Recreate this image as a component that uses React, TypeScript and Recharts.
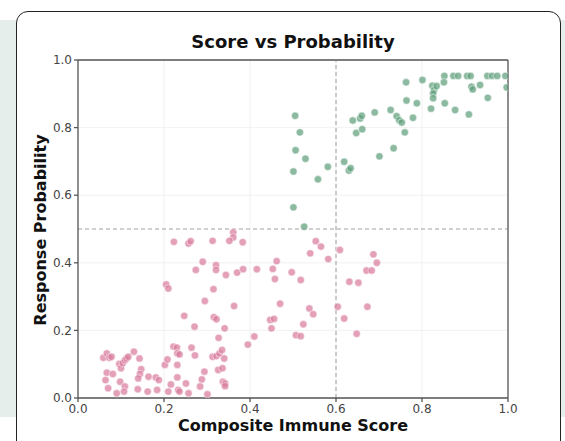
import React from 'react';
import { ScatterChart, Scatter, XAxis, YAxis, CartesianGrid, ReferenceLine } from 'recharts';

// [score, probability] pairs
const nonResponders: [number, number][] = [
  [0.223, 0.462], [0.257, 0.457], [0.262, 0.464], [0.313, 0.465], [0.361, 0.49], [0.361, 0.475],
  [0.352, 0.465], [0.383, 0.461], [0.29, 0.403], [0.274, 0.379], [0.321, 0.393], [0.321, 0.379],
  [0.344, 0.364], [0.37, 0.371], [0.384, 0.381], [0.416, 0.381], [0.205, 0.336], [0.21, 0.324],
  [0.315, 0.322], [0.295, 0.287], [0.363, 0.272], [0.247, 0.243], [0.316, 0.239], [0.322, 0.233],
  [0.271, 0.211], [0.341, 0.206], [0.327, 0.178], [0.395, 0.158], [0.41, 0.182], [0.453, 0.382],
  [0.462, 0.405], [0.458, 0.352], [0.47, 0.279], [0.447, 0.231], [0.456, 0.234], [0.45, 0.206],
  [0.497, 0.372], [0.518, 0.349], [0.507, 0.186], [0.518, 0.183], [0.524, 0.218], [0.538, 0.265],
  [0.547, 0.248], [0.54, 0.428], [0.553, 0.464], [0.565, 0.448], [0.582, 0.411], [0.609, 0.438],
  [0.604, 0.27], [0.619, 0.235], [0.631, 0.344], [0.652, 0.341], [0.648, 0.19], [0.687, 0.425],
  [0.695, 0.4], [0.671, 0.377], [0.683, 0.377], [0.673, 0.27],
  [0.059, 0.119], [0.067, 0.132], [0.073, 0.119], [0.078, 0.122], [0.064, 0.053], [0.067, 0.075],
  [0.07, 0.029], [0.081, 0.071], [0.09, 0.014], [0.096, 0.101], [0.1, 0.088], [0.104, 0.103],
  [0.109, 0.112], [0.113, 0.117], [0.117, 0.122], [0.098, 0.048], [0.109, 0.034], [0.107, 0.019],
  [0.13, 0.137], [0.143, 0.117], [0.147, 0.085], [0.144, 0.071], [0.14, 0.058], [0.139, 0.026],
  [0.164, 0.063], [0.162, 0.019], [0.181, 0.061], [0.188, 0.053], [0.184, 0.024], [0.202, 0.098],
  [0.208, 0.114], [0.21, 0.019], [0.216, 0.04], [0.222, 0.152], [0.23, 0.149], [0.231, 0.132],
  [0.236, 0.129], [0.231, 0.098], [0.231, 0.061], [0.233, 0.024], [0.236, 0.019], [0.251, 0.043],
  [0.257, 0.014], [0.264, 0.149], [0.272, 0.126], [0.288, 0.055], [0.284, 0.034], [0.294, 0.078],
  [0.301, 0.011], [0.313, 0.122], [0.322, 0.124], [0.329, 0.132], [0.335, 0.142], [0.34, 0.117],
  [0.326, 0.083], [0.336, 0.088], [0.337, 0.048], [0.342, 0.043], [0.342, 0.035],
];

const responders: [number, number][] = [
  [0.505, 0.835], [0.516, 0.786], [0.506, 0.733], [0.529, 0.708], [0.501, 0.67], [0.558, 0.647],
  [0.581, 0.684], [0.501, 0.564], [0.526, 0.507], [0.619, 0.699], [0.63, 0.673], [0.634, 0.68],
  [0.639, 0.821], [0.656, 0.827], [0.66, 0.835], [0.647, 0.784], [0.661, 0.795], [0.69, 0.845],
  [0.701, 0.715], [0.734, 0.739], [0.727, 0.852], [0.741, 0.834], [0.747, 0.822], [0.753, 0.815],
  [0.76, 0.786], [0.779, 0.829], [0.763, 0.934], [0.764, 0.88], [0.788, 0.872], [0.801, 0.941],
  [0.821, 0.856], [0.824, 0.924], [0.828, 0.911], [0.826, 0.901], [0.826, 0.887], [0.834, 0.923],
  [0.852, 0.953], [0.851, 0.934], [0.853, 0.872], [0.873, 0.953], [0.884, 0.953], [0.877, 0.852],
  [0.905, 0.953], [0.913, 0.953], [0.915, 0.921], [0.918, 0.913], [0.935, 0.926], [0.909, 0.839],
  [0.952, 0.953], [0.963, 0.953], [0.975, 0.953], [0.994, 0.953], [0.997, 0.919], [0.953, 0.888],
];

const axisTicks = [0, 0.2, 0.4, 0.6, 0.8, 1.0];
const scoreCutoff = 0.6;
const probCutoff = 0.5;

const toRows = (pts: [number, number][]) => pts.map(([score, prob]) => ({ score, prob }));

const dot = (color: string) => (p: any) => (
  <circle cx={p.cx} cy={p.cy} r={3.7} fill={color} fillOpacity={0.72} stroke="#ffffff" strokeWidth={0.5} />
);

const tickStyle = { fontSize: 12, fill: '#444', fontFamily: 'DejaVu Sans' };

export default function App() {
  return (
    <div style={{ position: 'absolute', left: 0, top: 0, width: 565, height: 441, overflow: 'hidden', fontFamily: 'DejaVu Sans', background: '#fff' }}>
      <div style={{ position: 'absolute', left: 0, top: 20, width: 565, height: 397, background: '#e6eeeb' }} />
      <div style={{ position: 'absolute', left: 16, top: 11, width: 543, height: 460, background: '#fff', border: '1.5px solid #222', borderRadius: 12 }} />
      <div style={{ position: 'absolute', left: 78, top: 31, width: 430, textAlign: 'center', fontSize: 18, fontWeight: 'bold', color: '#111' }}>
        Score vs Probability
      </div>
      <div style={{ position: 'absolute', left: 78, top: 416, width: 430, textAlign: 'center', fontSize: 16, fontWeight: 'bold', color: '#111' }}>
        Composite Immune Score
      </div>
      <div style={{ position: 'absolute', left: 40, top: 230, transform: 'translate(-50%, -50%) rotate(-90deg)', whiteSpace: 'nowrap', fontSize: 16, fontWeight: 'bold', color: '#111' }}>
        Response Probability
      </div>
      <div style={{ position: 'absolute', left: 0, top: 0 }}>
        <ScatterChart width={565} height={441} margin={{ top: 60, right: 57, left: 38, bottom: 13 }}>
          <CartesianGrid stroke="#eeeeee" strokeWidth={0.8} />
          <XAxis
            type="number"
            dataKey="score"
            domain={[0, 1]}
            ticks={axisTicks}
            tickFormatter={(v: number) => v.toFixed(1)}
            tick={tickStyle}
            tickSize={4}
            height={30}
            stroke="#555"
            strokeWidth={1.3}
            allowDataOverflow
          />
          <YAxis
            type="number"
            dataKey="prob"
            domain={[0, 1]}
            ticks={axisTicks}
            tickFormatter={(v: number) => v.toFixed(1)}
            tick={tickStyle}
            tickSize={4}
            width={40}
            stroke="#555"
            strokeWidth={1.3}
            allowDataOverflow
          />
          <ReferenceLine x={1} stroke="#555" strokeWidth={1.3} ifOverflow="visible" />
          <ReferenceLine y={1} stroke="#555" strokeWidth={1.3} ifOverflow="visible" />
          <ReferenceLine x={scoreCutoff} stroke="#888" strokeDasharray="4 3" strokeWidth={0.8} />
          <ReferenceLine y={probCutoff} stroke="#888" strokeDasharray="4 3" strokeWidth={0.8} />
          <Scatter data={toRows(nonResponders)} shape={dot('#d87b9c')} isAnimationActive={false} />
          <Scatter data={toRows(responders)} shape={dot('#5e9f7b')} isAnimationActive={false} />
        </ScatterChart>
      </div>
    </div>
  );
}
